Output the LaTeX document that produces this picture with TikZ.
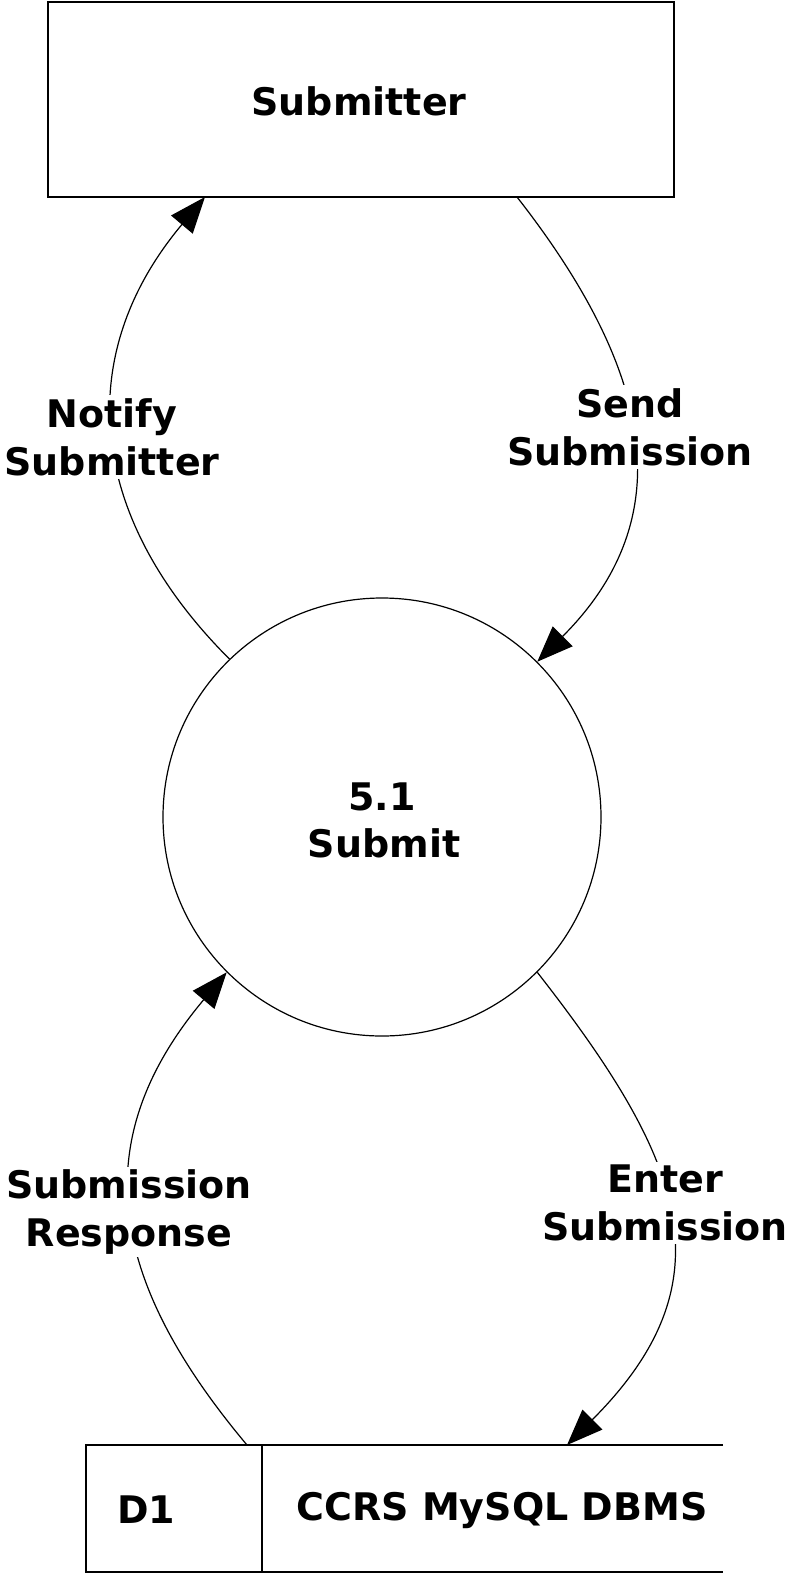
\documentclass[tikz,border=0pt]{standalone}
\usepackage{fontspec}
\setmainfont{DejaVu Sans}
\usetikzlibrary{arrows.meta,calc}
\begin{document}
\begin{tikzpicture}[x=1pt,y=-1pt,
  txt/.style={font=\fontsize{38}{48}\selectfont\bfseries, align=center},
  lbl/.style={txt, fill=white, inner sep=3pt},
  flow/.style={line width=1.2pt, -{Triangle[length=36pt,width=28pt]}},
  boxline/.style={line width=1.8pt}]
\useasboundingbox (0,0) rectangle (789,1574);
\fill[white] (0,0) rectangle (789,1574);
% external entity
\node[boxline, draw, minimum width=626pt, minimum height=195pt, inner sep=0pt] (sub) at (361,99.5) {};
\node[txt] (subt) at (359,101) {Submitter};
% process
\node[draw, circle, line width=1.2pt, minimum size=438pt, inner sep=0pt] (proc) at (382,817) {};
\node[txt] (pnum) at (382,797) {5.1};
\node[txt] (pname) at (384,843) {Submit};
% data store
\coordinate (stTL) at (86,1445);
\coordinate (stTR) at (723,1445);
\coordinate (stBL) at (86,1572);
\coordinate (stBR) at (723,1572);
\draw[boxline] (stTR) -- (stTL) -- (stBL) -- (stBR);
\draw[boxline] (262,1445) -- (262,1572);
\node[txt] (d1) at (146,1510) {D1};
\node[txt] (ccrs) at (502,1510) {CCRS MySQL DBMS};
% anchor points
\coordinate (subA) at (205,197);
\coordinate (subB) at (517,197);
\coordinate (stA) at (247,1445);
\coordinate (stB) at (567,1445);
% flows
\draw[flow] (proc.134) to[out=135,in=230,looseness=1.13] (subA);
\draw[flow] (subB) to[out=-52,in=45,looseness=1.16] (proc.45);
\draw[flow] (stA) to[out=130,in=230,looseness=1.18] (proc.225);
\draw[flow] (proc.-45) to[out=-52,in=45,looseness=1.27] (stB);
% labels
\node[lbl] (l1) at (112,437) {Notify\\Submitter};
\node[lbl] (l2) at (630,427) {Send\\Submission};
\node[lbl] (l3) at (129,1212) {Submission\\Response};
\node[lbl] (l4) at (665,1203) {Enter\\Submission};
\end{tikzpicture}
\end{document}
